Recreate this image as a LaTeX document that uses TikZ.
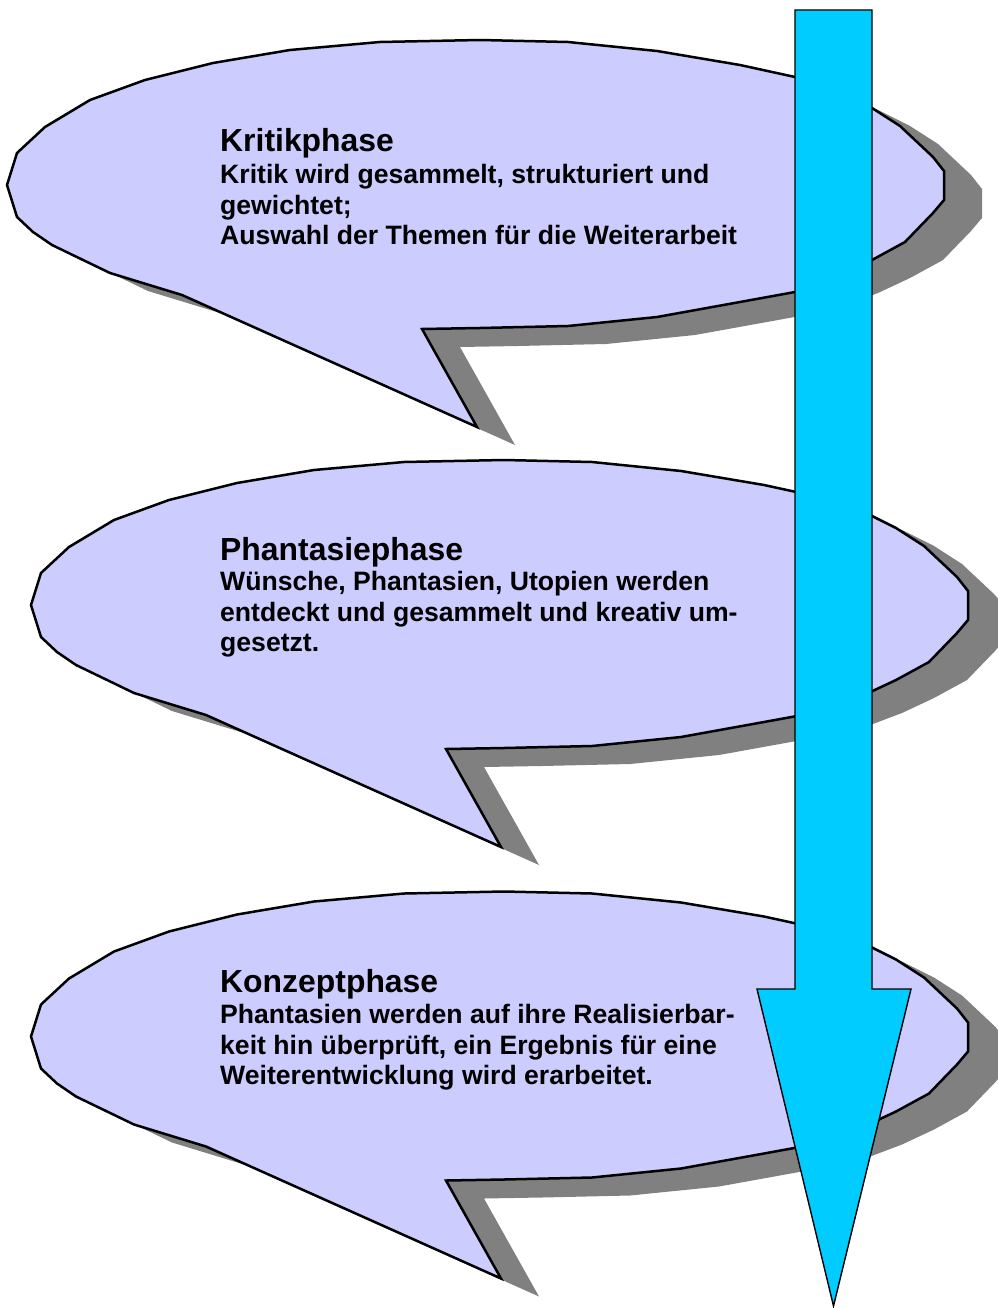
\documentclass[tikz,border=0pt]{standalone}
\usepackage{fontspec}
\setmainfont{Liberation Sans}
\definecolor{bubblefill}{HTML}{CCCCFF}
\definecolor{shadowgray}{HTML}{808080}
\definecolor{arrowcyan}{HTML}{00CCFF}
\tikzset{
  shadowshape/.style={fill=shadowgray, draw=none},
  bubbleshape/.style={fill=bubblefill, draw=black, line width=2.5pt},
  phasetitle/.style={anchor=base west, inner sep=0pt, font=\fontsize{31.9}{38}\selectfont\bfseries},
  phasetext/.style={anchor=base west, inner sep=0pt, font=\fontsize{26.6}{30.5}\selectfont\bfseries},
  bigarrow/.style={fill=arrowcyan, draw=black, line width=1.4pt}
}
\begin{document}
\begin{tikzpicture}[x=1pt,y=-1pt]
\useasboundingbox (0,0) rectangle (997,1308);
\foreach \dx/\dy in {0/0, 24/420, 24/851.5}{
  \begin{scope}[shift={(\dx,\dy)}]
    \fill[shadowshape, shift={(38,18)}] (380,42) -- (480,40) -- (568,42) -- (657,51) -- (740,65) -- (795,77) -- (840,92) -- (872,108) -- (900,126) -- (933,157) -- (944,171) -- (944,200) -- (933,213) -- (905,242) -- (872,260) -- (840,275) -- (795,292) -- (740,302) -- (657,317) -- (568,326) -- (480,328) -- (422,329) -- (477,427) -- (182,295) -- (110,273) -- (52,245) -- (33,232) -- (17,217) -- (7,185) -- (17,153) -- (45,127) -- (90,100) -- (145,80) -- (213,63) -- (290,50) -- cycle;
    \filldraw[bubbleshape] (380,42) -- (480,40) -- (568,42) -- (657,51) -- (740,65) -- (795,77) -- (840,92) -- (872,108) -- (900,126) -- (933,157) -- (944,171) -- (944,200) -- (933,213) -- (905,242) -- (872,260) -- (840,275) -- (795,292) -- (740,302) -- (657,317) -- (568,326) -- (480,328) -- (422,329) -- (477,427) -- (182,295) -- (110,273) -- (52,245) -- (33,232) -- (17,217) -- (7,185) -- (17,153) -- (45,127) -- (90,100) -- (145,80) -- (213,63) -- (290,50) -- cycle;
  \end{scope}
}
% Bubble 1 text
\node[phasetitle] (t1) at (220,152) {Kritikphase};
\node[phasetext] (t1a) at (220,183.5) {Kritik wird gesammelt, strukturiert und};
\node[phasetext] (t1b) at (220,214) {gewichtet;};
\node[phasetext] (t1c) at (220,244.5) {Auswahl der Themen für die Weiterarbeit};
% Bubble 2 text
\node[phasetitle] (t2) at (220,560) {Phantasiephase};
\node[phasetext] (t2a) at (220,590.5) {Wünsche, Phantasien, Utopien werden};
\node[phasetext] (t2b) at (220,621) {entdeckt und gesammelt und kreativ um-};
\node[phasetext] (t2c) at (220,651.5) {gesetzt.};
% Bubble 3 text
\node[phasetitle] (t3) at (220,992) {Konzeptphase};
\node[phasetext] (t3a) at (220,1023.5) {Phantasien werden auf ihre Realisierbar-};
\node[phasetext] (t3b) at (220,1054) {keit hin überprüft, ein Ergebnis für eine};
\node[phasetext] (t3c) at (220,1084.5) {Weiterentwicklung wird erarbeitet.};
% Arrow
\filldraw[bigarrow] (795,10) -- (872,10) -- (872,989) -- (911,989) -- (833.5,1306) -- (757,989) -- (795,989) -- cycle;
\end{tikzpicture}
\end{document}
